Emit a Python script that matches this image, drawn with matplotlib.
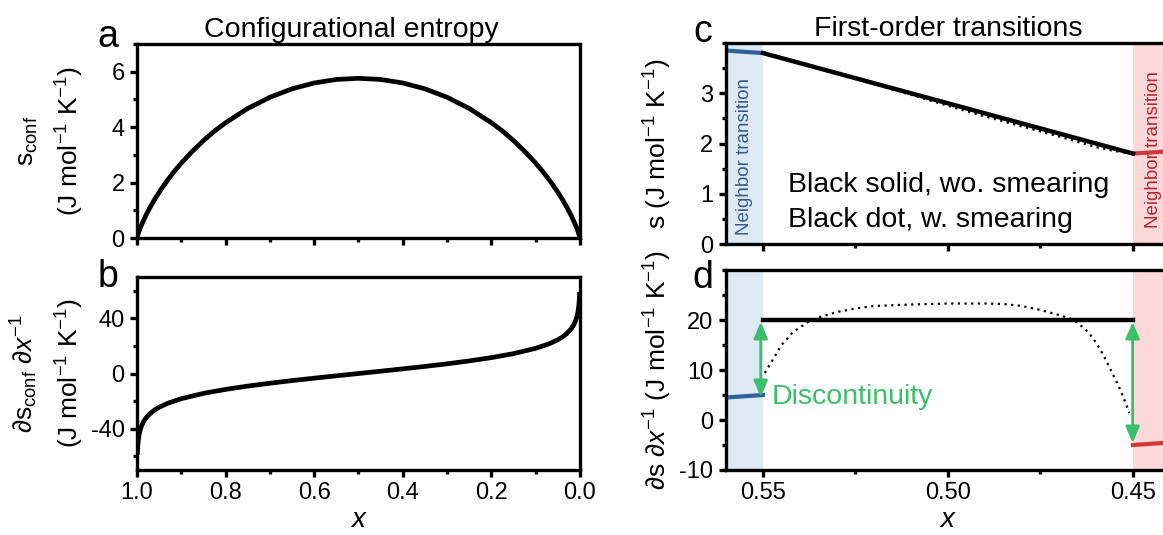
import matplotlib
matplotlib.use("Agg")
import matplotlib.pyplot as plt
from matplotlib.ticker import MultipleLocator, FixedLocator, FormatStrFormatter

plt.rcParams['font.family'] = ['Liberation Sans', 'DejaVu Sans']
plt.rcParams['mathtext.fontset'] = 'custom'
plt.rcParams['mathtext.rm'] = 'Liberation Sans'
plt.rcParams['mathtext.it'] = 'Liberation Sans:italic'
plt.rcParams['axes.linewidth'] = 2.4
plt.rcParams['axes.unicode_minus'] = False

# panel a/b: configurational entropy and its derivative
x_conf = [1.0, 0.999, 0.995, 0.99, 0.98, 0.97, 0.96, 0.95, 0.94, 0.93, 0.915, 0.9, 0.875, 0.85,
          0.825, 0.8, 0.75, 0.7, 0.65, 0.6, 0.55, 0.5, 0.45, 0.4, 0.35, 0.3, 0.25, 0.2, 0.175,
          0.15, 0.125, 0.1, 0.085, 0.07, 0.06, 0.05, 0.04, 0.03, 0.02, 0.01, 0.005, 0.001, 0.0]
s_conf = [0.0, 0.066, 0.262, 0.466, 0.815, 1.120, 1.397, 1.650, 1.888, 2.109, 2.421, 2.703,
          3.130, 3.514, 3.861, 4.160, 4.675, 5.079, 5.383, 5.595, 5.721, 5.763, 5.721, 5.595,
          5.383, 5.079, 4.675, 4.160, 3.861, 3.514, 3.130, 2.703, 2.421, 2.109, 1.888, 1.650,
          1.397, 1.120, 0.815, 0.466, 0.262, 0.066, 0.0]
x_dconf = [0.999, 0.998, 0.997, 0.995, 0.993, 0.99, 0.985, 0.98, 0.97, 0.96, 0.95, 0.93, 0.9,
           0.85, 0.8, 0.75, 0.7, 0.65, 0.6, 0.55, 0.5, 0.45, 0.4, 0.35, 0.3, 0.25, 0.2, 0.15,
           0.1, 0.07, 0.05, 0.04, 0.03, 0.02, 0.015, 0.01, 0.007, 0.005, 0.003, 0.002, 0.001]
ds_conf = [-57.42, -51.65, -48.27, -44.01, -41.17, -38.20, -34.78, -32.36, -28.90, -26.42,
           -24.48, -21.51, -18.27, -14.42, -11.53, -9.13, -7.04, -5.15, -3.37, -1.67, 0.0,
           1.67, 3.37, 5.15, 7.04, 9.13, 11.53, 14.42, 18.27, 21.51, 24.48, 26.42, 28.90,
           32.36, 34.78, 38.20, 41.17, 44.01, 48.27, 51.65, 57.42]

# panel c/d: first-order transitions
x_left = [0.56, 0.55]
s_left = [3.85, 3.80]
ds_left = [4.5, 5.0]
x_right = [0.45, 0.44]
s_right = [1.80, 1.845]
ds_right = [-5.0, -4.5]
x_solid = [0.55, 0.45]
s_solid = [3.80, 1.80]
ds_solid = [20, 20]
x_dot_s = [0.55, 0.545, 0.54, 0.53, 0.52, 0.51, 0.50, 0.49, 0.48, 0.47, 0.46, 0.455, 0.45]
s_dot = [3.80, 3.70, 3.60, 3.39, 3.18, 2.97, 2.75, 2.54, 2.34, 2.14, 1.93, 1.85, 1.80]
x_dot_ds = [0.5495, 0.547, 0.545, 0.542, 0.538, 0.535, 0.53, 0.525, 0.52, 0.51, 0.50, 0.49,
            0.485, 0.48, 0.475, 0.47, 0.467, 0.465, 0.462, 0.46, 0.458, 0.456, 0.454,
            0.452, 0.451]
ds_dot = [9.4, 12.5, 15.0, 17.5, 19.5, 20.5, 21.6, 22.3, 22.8, 23.1, 23.3, 23.3, 23.2, 22.8,
          22.0, 21.0, 20.3, 19.5, 17.5, 15.5, 13.0, 10.0, 7.0, 3.5, 1.4]
jump_left = [19.6, 4.6]
jump_right = [19.6, -4.6]

blue_shade = '#dfe9f4'
red_shade = '#fdd8d8'
blue_line = '#2f639a'
red_line = '#d03a3a'
green = '#3cbf6a'
unit = '(J mol$^{\\mathregular{-1}}$ K$^{\\mathregular{-1}}$)'

fig = plt.figure(figsize=(11.63, 5.35), dpi=100)
ax_a = fig.add_axes([0.1178, 0.5551, 0.3809, 0.3626])
ax_b = fig.add_axes([0.1178, 0.1215, 0.3809, 0.3607])
ax_c = fig.add_axes([0.6242, 0.5439, 0.3818, 0.3757])
ax_d = fig.add_axes([0.6242, 0.1215, 0.3818, 0.3738])


def style(ax):
    ax.tick_params(which='major', direction='out', length=5, width=2.4, labelsize=17,
                   top=False, right=False, pad=4)
    ax.tick_params(which='minor', direction='out', length=3, width=2.4, top=False, right=False)


ax_a.plot(x_conf, s_conf, color='black', lw=3.4)
ax_a.set_xlim(1.0, 0.0)
ax_a.set_ylim(0, 7)
ax_a.xaxis.set_major_locator(MultipleLocator(0.2))
ax_a.xaxis.set_minor_locator(MultipleLocator(0.1))
ax_a.yaxis.set_major_locator(FixedLocator([0, 2, 4, 6]))
ax_a.yaxis.set_minor_locator(MultipleLocator(1))
ax_a.set_xticklabels([])
ax_a.set_title('Configurational entropy', fontsize=20.5, pad=5, x=0.483)
ax_a.set_ylabel('$\\mathregular{s_{conf}}$\n' + unit, fontsize=19, linespacing=1.55)
ax_a.yaxis.set_label_coords(-0.116, 0.5)
style(ax_a)

ax_b.plot(x_dconf, ds_conf, color='black', lw=3.4)
ax_b.set_xlim(1.0, 0.0)
ax_b.set_ylim(-70, 70)
ax_b.xaxis.set_major_locator(MultipleLocator(0.2))
ax_b.xaxis.set_minor_locator(MultipleLocator(0.1))
ax_b.yaxis.set_major_locator(FixedLocator([-40, 0, 40]))
ax_b.yaxis.set_minor_locator(MultipleLocator(20))
ax_b.xaxis.set_major_formatter(FormatStrFormatter('%.1f'))
ax_b.set_xlabel('$x$', fontsize=20, labelpad=2)
ax_b.set_ylabel('\u2202$\\mathregular{s_{conf}}$ \u2202$x^{\\mathregular{-1}}$\n' + unit,
                fontsize=19, linespacing=1.55)
ax_b.yaxis.set_label_coords(-0.116, 0.5)
style(ax_b)

for ax in (ax_c, ax_d):
    ax.axvspan(0.56, 0.55, color=blue_shade, lw=0, zorder=0)
    ax.axvspan(0.45, 0.44, color=red_shade, lw=0, zorder=0)
    ax.set_xlim(0.56, 0.44)
    ax.xaxis.set_major_locator(MultipleLocator(0.05))
    ax.xaxis.set_minor_locator(MultipleLocator(0.025))
    ax.spines['right'].set_visible(False)
    style(ax)

ax_c.plot(x_left, s_left, color=blue_line, lw=3)
ax_c.plot(x_right, s_right, color=red_line, lw=3)
ax_c.plot(x_dot_s, s_dot, color='black', lw=1.6, linestyle=(0, (1, 2)))
ax_c.plot(x_solid, s_solid, color='black', lw=3.2)
ax_c.set_ylim(0, 4)
ax_c.yaxis.set_major_locator(FixedLocator([0, 1, 2, 3]))
ax_c.yaxis.set_minor_locator(MultipleLocator(0.5))
ax_c.set_xticklabels([])
ax_c.set_title('First-order transitions', fontsize=20.5, pad=5)
ax_c.set_ylabel('$\\mathregular{s}$ ' + unit, fontsize=19)
ax_c.yaxis.set_label_coords(-0.117, 0.5)
ax_c.text(0.555, 1.75, 'Neighbor transition', rotation=90, color='#2f5b8a', fontsize=13.5,
          ha='center', va='center')
ax_c.text(0.4444, 1.88, 'Neighbor transition', rotation=90, color='#b8242b', fontsize=13.5,
          ha='center', va='center')
ax_c.text(0.5432, 1.18, 'Black solid, wo. smearing', fontsize=20.5, va='center')
ax_c.text(0.5432, 0.48, 'Black dot, w. smearing', fontsize=20.5, va='center')

ax_d.plot(x_left, ds_left, color=blue_line, lw=3)
ax_d.plot(x_right, ds_right, color=red_line, lw=3)
ax_d.plot(x_dot_ds, ds_dot, color='black', lw=1.6, linestyle=(0, (1, 2)))
ax_d.plot(x_solid, ds_solid, color='black', lw=3.2)
ax_d.set_ylim(-10, 30)
ax_d.yaxis.set_major_locator(FixedLocator([-10, 0, 10, 20]))
ax_d.yaxis.set_minor_locator(MultipleLocator(5))
ax_d.xaxis.set_major_formatter(FormatStrFormatter('%.2f'))
ax_d.set_xlabel('$x$', fontsize=20, labelpad=2)
ax_d.set_ylabel('\u2202$\\mathregular{s}$ \u2202$x^{\\mathregular{-1}}$ ' + unit, fontsize=19)
ax_d.yaxis.set_label_coords(-0.117, 0.5)
for xa, ys in ((0.5506, jump_left), (0.4501, jump_right)):
    ax_d.annotate('', xy=(xa, ys[1]), xytext=(xa, ys[0]),
                  arrowprops=dict(arrowstyle='<|-|>,head_length=0.7,head_width=0.3', color=green,
                                  lw=2, mutation_scale=14, shrinkA=0, shrinkB=0))
ax_d.text(0.5476, 4.6, 'Discontinuity', color=green, fontsize=20.5, va='center')

for letter, xp, yp in (('a', 108, 47), ('b', 108, 287), ('c', 703, 42), ('d', 703, 288)):
    fig.text(xp / 1163, 1 - yp / 535, letter, fontsize=27, ha='center', va='baseline')

fig.savefig('out.png', dpi=100)
